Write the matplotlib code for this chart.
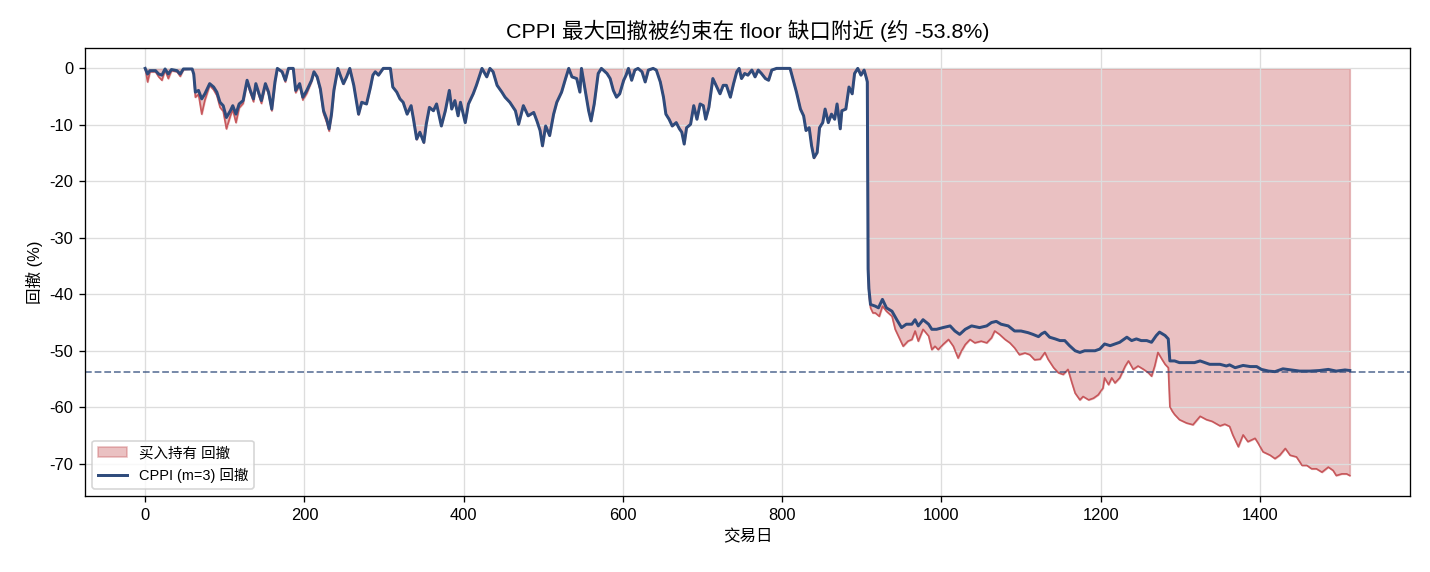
import numpy as np
import matplotlib
matplotlib.use("Agg")
import matplotlib.pyplot as plt

plt.rcParams['font.family'] = ['Liberation Sans', 'Noto Sans CJK SC', 'DejaVu Sans']
plt.rcParams['axes.unicode_minus'] = False

# 交易日 (day index) and drawdown (%), before the crash
pre_days = [0, 3, 6, 13, 17, 21, 25, 29, 33, 40, 44, 48, 59, 61, 63, 67, 71, 75, 81, 86,
            90, 94, 98, 102, 107, 110, 114, 118, 123, 128, 132, 136, 139, 143, 146, 151, 155, 159, 163, 166,
            172, 176, 180, 186, 189, 194, 198, 203, 209, 212, 216, 220, 224, 228, 231, 234, 237, 242, 245, 249,
            253, 257, 262, 268, 272, 278, 283, 286, 289, 293, 299, 308, 311, 316, 320, 324, 329, 334, 337, 341,
            345, 350, 353, 357, 362, 366, 372, 377, 382, 385, 389, 393, 396, 402, 406, 412, 416, 423, 429, 433,
            437, 442, 448, 452, 458, 465, 469, 475, 481, 488, 492, 496, 499, 503, 508, 513, 517, 523, 528, 532,
            536, 542, 546, 548, 553, 557, 560, 564, 569, 573, 580, 584, 588, 592, 596, 601, 604, 607, 611, 615,
            619, 624, 628, 632, 638, 642, 647, 651, 654, 658, 662, 667, 671, 674, 677, 680, 685, 689, 693, 697,
            701, 704, 708, 713, 718, 722, 726, 730, 735, 739, 743, 746, 749, 753, 757, 762, 766, 770, 774, 779,
            783, 787, 793, 797, 803, 810, 814, 818, 823, 827, 830, 834, 837, 840, 844, 847, 851, 854, 858, 862,
            866, 869, 873, 875, 880, 884, 888, 891, 895, 899, 903, 906, 907]

cppi_pre = [0, -1.0, -0.4, -0.4, -1.0, -1.2, -0.1, -1.0, -0.2, -0.4, -1.0, -0.1, -0.1, -1.0, -4.2, -3.9, -5.4, -4.5, -2.7, -3.3,
            -4.2, -6.0, -6.6, -8.7, -7.5, -6.6, -8.1, -6.3, -5.7, -2.1, -3.9, -5.4, -2.7, -4.5, -5.7, -2.7, -4.2, -7.2, -2.4, 0,
            -0.6, -2.1, 0, 0, -3.9, -2.7, -5.1, -3.9, -2.1, -0.6, -1.5, -3.6, -7.5, -9.0, -10.7, -8.1, -3.9, 0, -1.2, -2.7,
            -1.5, 0, -3.0, -8.1, -6.0, -6.3, -3.3, -1.2, -0.6, -1.2, 0, 0, -3.3, -4.2, -5.4, -6.0, -8.1, -6.6, -9.0, -12.5,
            -11.3, -13.1, -9.9, -6.9, -7.5, -6.3, -10.2, -7.5, -3.9, -7.2, -5.7, -8.4, -6.0, -9.6, -6.3, -4.5, -3.0, 0, -1.5, 0,
            -0.6, -3.0, -4.2, -5.1, -6.0, -7.5, -9.9, -6.6, -8.4, -7.8, -9.3, -11.0, -13.7, -10.2, -11.9, -8.1, -6.0, -4.2, -1.8, 0,
            -1.5, -1.8, -4.2, 0, -4.2, -7.5, -9.3, -6.3, -0.9, 0, -0.9, -1.8, -3.9, -5.1, -4.5, -2.1, -1.2, 0, -2.1, -0.3,
            0, -0.6, -2.4, -0.3, 0, -0.3, -2.4, -5.1, -8.1, -9.0, -10.2, -9.6, -10.7, -11.3, -13.4, -10.5, -9.9, -6.6, -9.0, -6.3,
            -6.6, -9.0, -6.9, -1.8, -3.3, -4.5, -3.0, -3.0, -5.1, -2.7, -0.6, 0, -1.8, -0.9, -1.2, -0.3, -1.5, -0.3, -0.9, -1.8,
            -2.1, -0.3, 0, 0, 0, 0, -2.1, -4.2, -7.2, -8.4, -11.0, -10.5, -13.7, -15.8, -14.9, -10.5, -9.6, -7.2, -9.6, -8.1,
            -9.0, -6.3, -10.7, -7.5, -7.2, -3.3, -4.5, -0.9, 0, -1.2, -0.3, -1.8, -2.4]

bh_pre = [0, -2.4, -0.6, -0.6, -1.5, -2.1, -0.3, -1.8, -0.4, -0.6, -1.4, -0.2, -0.1, -1.2, -5.1, -4.6, -8.1, -5.6, -3.0, -3.8,
          -4.8, -6.9, -7.6, -10.7, -8.4, -7.3, -9.6, -7.0, -6.2, -2.4, -4.3, -5.9, -3.0, -4.9, -6.2, -3.0, -4.6, -7.5, -2.7, 0,
          -0.7, -2.4, 0, 0, -4.3, -3.0, -5.6, -4.4, -2.3, -0.7, -1.7, -4.0, -8.0, -9.6, -11.1, -8.4, -4.1, 0, -1.2, -2.8,
          -1.5, 0, -3.0, -8.2, -6.0, -6.3, -3.3, -1.2, -0.6, -1.2, 0, 0, -3.3, -4.2, -5.4, -6.0, -8.1, -6.6, -9.0, -12.6,
          -11.3, -13.2, -9.9, -6.9, -7.5, -6.3, -10.2, -7.5, -3.9, -7.2, -5.7, -8.4, -6.0, -9.6, -6.3, -4.5, -3.0, 0, -1.5, 0,
          -0.6, -3.0, -4.2, -5.1, -6.0, -7.5, -9.9, -6.6, -8.4, -7.8, -9.3, -11.0, -13.8, -10.2, -11.9, -8.1, -6.0, -4.2, -1.8, 0,
          -1.5, -1.8, -4.2, 0, -4.2, -7.5, -9.3, -6.3, -0.9, 0, -0.9, -1.8, -3.9, -5.1, -4.5, -2.1, -1.2, 0, -2.1, -0.3,
          0, -0.6, -2.4, -0.3, 0, -0.3, -2.4, -5.1, -8.1, -9.0, -10.2, -9.6, -10.7, -11.3, -13.4, -10.5, -9.9, -6.6, -9.0, -6.3,
          -6.6, -9.0, -6.9, -1.8, -3.3, -4.5, -3.0, -3.0, -5.1, -2.7, -0.6, 0, -1.8, -0.9, -1.2, -0.3, -1.5, -0.3, -0.9, -1.8,
          -2.1, -0.3, 0, 0, 0, 0, -2.1, -4.2, -7.2, -8.4, -11.0, -10.5, -13.7, -15.9, -14.9, -10.5, -9.6, -7.2, -9.6, -8.1,
          -9.0, -6.3, -10.7, -7.5, -7.2, -3.3, -4.5, -0.9, 0, -1.2, -0.3, -1.8, -2.4]

# after the crash the two series split
cppi_post_days = [908, 909, 911, 917, 921, 926, 931, 938, 944, 950, 956, 963, 967, 971, 977, 984, 988, 994, 1002, 1011,
                  1017, 1023, 1030, 1038, 1048, 1057, 1063, 1069, 1075, 1084, 1092, 1100, 1109, 1115, 1122, 1126, 1130, 1136, 1143, 1149,
                  1155, 1161, 1168, 1174, 1180, 1187, 1193, 1199, 1205, 1212, 1218, 1224, 1233, 1239, 1245, 1251, 1258, 1264, 1270, 1274,
                  1281, 1285, 1287, 1293, 1299, 1306, 1312, 1318, 1325, 1331, 1337, 1343, 1350, 1358, 1362, 1369, 1379, 1388, 1396, 1402,
                  1411, 1419, 1429, 1440, 1450, 1463, 1475, 1486, 1496, 1507, 1513]
cppi_post = [-35.5, -39.0, -41.8, -42.1, -42.4, -40.9, -42.4, -43.0, -44.5, -45.9, -45.3, -45.3, -44.5, -45.6, -44.5, -45.3, -46.2, -46.2, -45.9, -45.6,
             -46.5, -47.1, -46.2, -45.6, -45.9, -45.6, -45.0, -44.8, -45.3, -45.6, -46.5, -46.5, -46.8, -47.1, -47.5, -47.0, -46.7, -47.6, -47.9, -48.2,
             -48.2, -49.1, -50.0, -50.3, -50.0, -50.0, -50.0, -49.7, -48.8, -49.1, -48.8, -48.5, -47.6, -48.2, -47.9, -48.2, -48.2, -48.5, -47.3, -46.7,
             -47.3, -47.9, -51.8, -51.8, -52.1, -52.1, -52.1, -52.1, -51.8, -52.1, -52.4, -52.4, -52.4, -52.7, -52.5, -53.0, -52.6, -52.8, -52.8, -53.3,
             -53.6, -53.7, -53.2, -53.4, -53.6, -53.6, -53.5, -53.3, -53.6, -53.4, -53.5]

bh_post_days = [908, 909, 911, 914, 917, 922, 926, 931, 938, 942, 948, 952, 958, 963, 967, 971, 977, 984, 988, 992,
                996, 1002, 1009, 1015, 1021, 1025, 1030, 1036, 1042, 1050, 1057, 1063, 1067, 1073, 1080, 1086, 1092, 1098, 1105, 1111,
                1117, 1124, 1130, 1134, 1141, 1147, 1153, 1159, 1164, 1168, 1174, 1178, 1185, 1191, 1197, 1203, 1205, 1210, 1214, 1218,
                1224, 1231, 1235, 1241, 1247, 1254, 1260, 1264, 1268, 1272, 1277, 1281, 1285, 1287, 1290, 1293, 1299, 1308, 1316, 1325,
                1333, 1340, 1350, 1356, 1362, 1366, 1373, 1379, 1385, 1394, 1398, 1404, 1413, 1419, 1425, 1432, 1438, 1446, 1453, 1459,
                1465, 1471, 1478, 1486, 1492, 1496, 1503, 1509, 1513]
bh_post = [-36.0, -40.0, -42.4, -43.3, -43.3, -43.9, -42.1, -43.0, -43.9, -46.2, -48.0, -49.2, -48.3, -48.0, -46.5, -48.3, -46.2, -47.4, -49.8, -49.2,
           -49.8, -48.9, -48.0, -49.2, -51.3, -50.1, -48.9, -48.0, -48.6, -48.3, -48.6, -47.7, -46.5, -47.1, -48.0, -48.6, -49.5, -50.7, -50.4, -50.7,
           -51.6, -51.5, -50.3, -51.5, -53.0, -53.9, -54.2, -53.3, -55.7, -57.5, -58.7, -58.1, -58.7, -58.4, -57.8, -56.6, -54.8, -56.0, -54.8, -55.7,
           -54.8, -52.7, -51.8, -53.3, -52.7, -53.3, -53.9, -54.5, -52.7, -50.3, -51.5, -52.4, -53.0, -59.9, -60.7, -61.3, -62.2, -62.8, -63.1, -61.6,
           -62.2, -62.5, -63.3, -63.0, -63.4, -64.9, -67.0, -64.9, -66.1, -65.5, -66.4, -67.9, -68.5, -69.1, -68.5, -67.3, -68.5, -68.8, -70.3, -70.3,
           -70.9, -70.9, -71.5, -70.6, -71.2, -72.1, -71.8, -71.8, -72.1]

floor_gap = -53.8

assert len(pre_days) == len(cppi_pre) == len(bh_pre)
assert len(cppi_post_days) == len(cppi_post)
assert len(bh_post_days) == len(bh_post)

cppi_days = np.array(pre_days + cppi_post_days)
cppi_dd = np.array(cppi_pre + cppi_post)
bh_days = np.array(pre_days + bh_post_days)
bh_dd = np.array(bh_pre + bh_post)

red = '#c44e52'
blue = '#2f4b7c'

fig, ax = plt.subplots(figsize=(12, 4.8), dpi=119.17)
fig.subplots_adjust(left=0.0594, right=0.986, top=0.916, bottom=0.133)

ax.fill_between(bh_days, bh_dd, 0, color=red, alpha=0.35, label='买入持有 回撤')
ax.plot(bh_days, bh_dd, color=red, lw=1.0, alpha=0.9)
ax.plot(cppi_days, cppi_dd, color=blue, lw=1.8, label='CPPI (m=3) 回撤')
ax.axhline(floor_gap, color=blue, lw=1.1, ls='--', alpha=0.7)

ax.set_title('CPPI 最大回撤被约束在 floor 缺口附近 (约 -53.8%)', fontsize=13)
ax.set_xlabel('交易日')
ax.set_ylabel('回撤 (%)')
ax.grid(True, color='#dddddd', lw=0.8)
ax.legend(loc='lower left', fontsize=8.8)

fig.savefig('out.png', dpi=119.17)
